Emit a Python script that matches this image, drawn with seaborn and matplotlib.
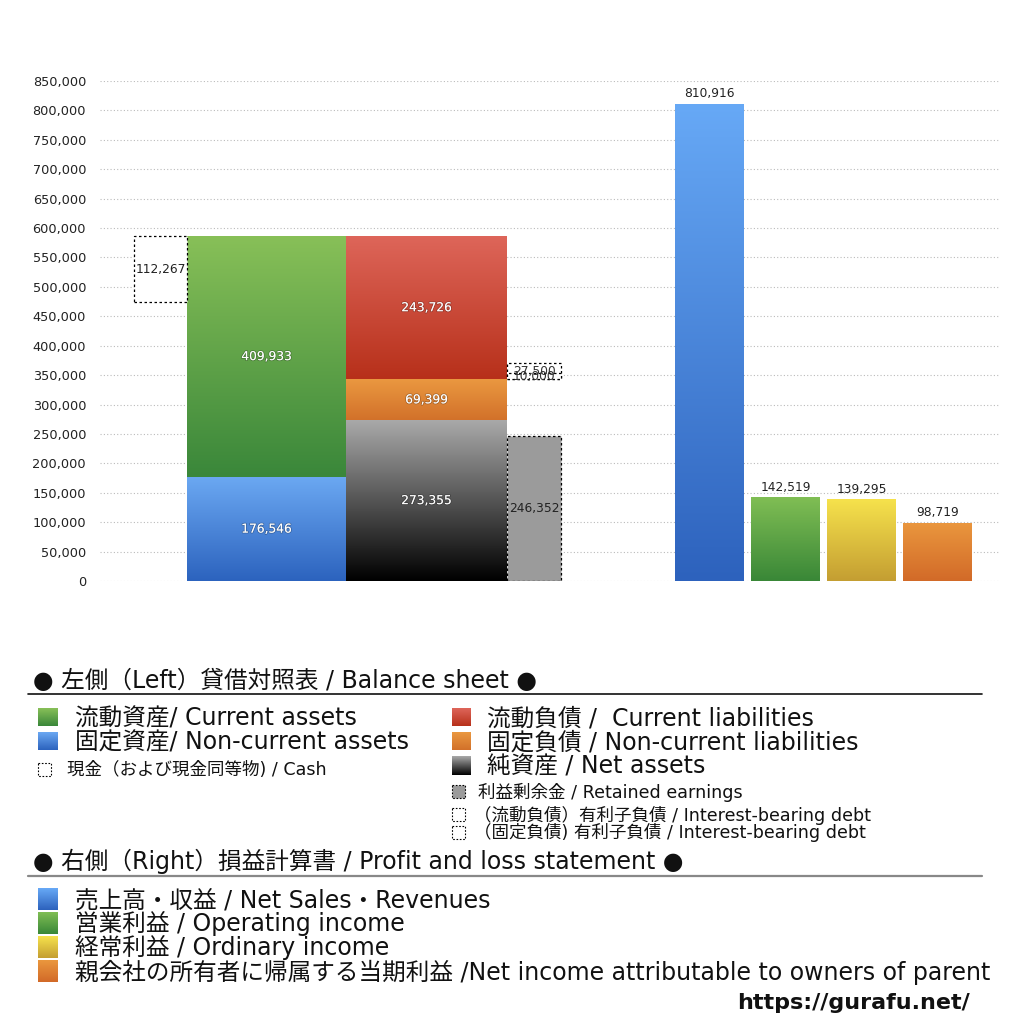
import numpy as np
import pandas as pd
import matplotlib
matplotlib.use("Agg")
import matplotlib.pyplot as plt
import matplotlib.patheffects as pe
from matplotlib.colors import LinearSegmentedColormap
from matplotlib.ticker import FuncFormatter
from matplotlib.patches import Rectangle
import seaborn as sns

# ---------------- data ----------------
assets_labels = ["固定資産", "流動資産"]              # bottom -> top
assets_values = [176546, 409933]
liab_labels = ["純資産", "固定負債", "流動負債"]        # bottom -> top
liab_values = [273355, 69399, 243726]
cash_value = 112267
retained_value = 246352
debt_labels = ["(固定負債) 有利子負債", "(流動負債) 有利子負債"]
debt_values = [10000, 27500]
pl_labels = ["売上高・収益", "営業利益", "経常利益", "親会社株主に帰属する当期利益"]
pl_values = [810916, 142519, 139295, 98719]
y_ticks = list(range(0, 850001, 50000))

# ---------------- style ----------------
sns.set_theme(style="white")
FONTS = ["DejaVu Sans", "Noto Sans CJK JP"]
plt.rcParams["font.family"] = FONTS

fig = plt.figure(figsize=(10.24, 10.24), dpi=100)
W = H = 1024.0
ax = fig.add_axes([100 / W, (H - 581) / H, 900 / W, 500 / H])

def grad(axis, patch, c_top, c_bot):
    x0, y0 = patch.get_x(), patch.get_y()
    w, h = patch.get_width(), patch.get_height()
    cmap = LinearSegmentedColormap.from_list("g", [c_bot, c_top])
    im = axis.imshow(np.linspace(0, 1, 256).reshape(-1, 1), extent=[x0, x0 + w, y0, y0 + h],
                     origin="lower", cmap=cmap, aspect="auto", interpolation="bilinear",
                     zorder=patch.get_zorder())
    im.set_clip_path(patch)
    patch.set_facecolor("none")

shadow = [pe.withStroke(linewidth=1.3, foreground=(0, 0, 0, 0.22))]
lab_kw = dict(ha="center", va="center", fontsize=8.8, family=FONTS)

# ---- left: balance sheet ----
A_X, A_W = 166.5, 159
L_X, L_W = 326.5, 161
asset_cols = [("#6BA8F2", "#2C63BE"), ("#88C058", "#3A873A")]
liab_cols = [("#A9A9A9", "#000000"), ("#EA9840", "#D2712A"), ("#DE665A", "#B7301A")]

a_bottoms = np.concatenate([[0], np.cumsum(assets_values)[:-1]])
bars = ax.bar([A_X] * len(assets_values), assets_values, bottom=a_bottoms, width=A_W,
              linewidth=0, zorder=3)
for p, (ct, cb), v in zip(bars.patches, asset_cols, assets_values):
    grad(ax, p, ct, cb)
    ax.text(A_X, p.get_y() + v / 2, f"{v:,}", color="white", path_effects=shadow, zorder=6, **lab_kw)

l_bottoms = np.concatenate([[0], np.cumsum(liab_values)[:-1]])
bars = ax.bar([L_X] * len(liab_values), liab_values, bottom=l_bottoms, width=L_W,
              linewidth=0, zorder=3)
for p, (ct, cb), v in zip(bars.patches, liab_cols, liab_values):
    grad(ax, p, ct, cb)
    ax.text(L_X, p.get_y() + v / 2, f"{v:,}", color="white", path_effects=shadow, zorder=6, **lab_kw)

total_assets = sum(assets_values)
# cash box (dashed, hangs from top of assets)
C_X, C_W = 60.5, 53
ax.bar([C_X], [cash_value], bottom=[total_assets - cash_value], width=C_W, facecolor="white",
       edgecolor="black", linestyle=(0, (2, 2)), linewidth=0.9, zorder=4)
ax.text(C_X, total_assets - cash_value / 2, f"{cash_value:,}", color="#222222", zorder=6, **lab_kw)

# retained earnings
R_X, R_W = 434, 54
ax.bar([R_X], [retained_value], width=R_W, facecolor="#9B9B9B", edgecolor="black",
       linestyle=(0, (2, 2)), linewidth=0.9, zorder=4)
ax.text(R_X, retained_value / 2, f"{retained_value:,}", color="#222222", zorder=6, **lab_kw)

# interest bearing debt boxes, starting at top of non-current liabilities
debt_base = liab_values[0] + liab_values[1]
for v in sorted(debt_values, reverse=True):
    ax.bar([R_X], [v], bottom=[debt_base], width=R_W, facecolor="white", edgecolor="black",
           linestyle=(0, (2, 2)), linewidth=0.9, zorder=4)
for v in debt_values:
    ax.text(R_X, debt_base + v / 2, f"{v:,}", color="#333333", zorder=6, **lab_kw)

# ---- right: P&L via seaborn ----
pl_pos = [609.5, 685.5, 761.5, 837.5]
pl_cols = [("#67A9F6", "#2D62BD"), ("#80BE54", "#398737"), ("#F6E24C", "#C49E32"), ("#EA973E", "#D26A28")]
df_pl = pd.DataFrame({"pos": pl_pos, "value": pl_values, "label": pl_labels})
n_before = len(ax.patches)
sns.barplot(data=df_pl, x="pos", y="value", native_scale=True, width=69 / 76, errorbar=None,
            color="#888888", linewidth=0, ax=ax, zorder=3)
for p, (ct, cb), v in zip(ax.patches[n_before:], pl_cols, pl_values):
    grad(ax, p, ct, cb)
    ax.text(p.get_x() + p.get_width() / 2, v + 6000, f"{v:,}", ha="center", va="bottom",
            fontsize=8.8, color="#222222", family=FONTS, zorder=6)

# ---- axes cosmetics ----
ax.set_xlim(0, 900)
ax.set_ylim(0, 850000)
ax.set_yticks(y_ticks)
ax.yaxis.set_major_formatter(FuncFormatter(lambda v, _: f"{int(v):,}"))
ax.set_xticks([])
ax.set_xlabel("")
ax.set_ylabel("")
ax.tick_params(axis="y", labelsize=9.3, labelcolor="#222222", length=0, pad=10)
ax.grid(axis="y", linestyle=(0, (1, 2)), color="#BBBBBB", linewidth=0.8, zorder=0)
ax.set_axisbelow(True)
for s in ax.spines.values():
    s.set_visible(False)
ax.set_facecolor("white")

# ---------------- legend overlay ----------------
ov = fig.add_axes([0, 0, 1, 1], zorder=10)
ov.set_xlim(0, W)
ov.set_ylim(H, 0)
ov.axis("off")
ov.patch.set_alpha(0)

def swatch(x, y, w, h, ct, cb):
    cmap = LinearSegmentedColormap.from_list("g", [cb, ct])
    ov.imshow(np.linspace(0, 1, 64).reshape(-1, 1), extent=[x, x + w, y + h, y], origin="lower",
              cmap=cmap, aspect="auto", interpolation="bilinear")

def dashed(x, y, w, h, fc="white"):
    ov.add_patch(Rectangle((x, y), w, h, facecolor=fc, edgecolor="black",
                           linestyle=(0, (1.5, 1.5)), linewidth=0.8))

BIG = 17
SMALL = 12.6
tkw = dict(va="center", ha="left", color="#111111", family=FONTS)

ov.text(33, 681, "● 左側（Left）貸借対照表 / Balance sheet ●", fontsize=BIG, **tkw)
ov.plot([28, 982], [694, 694], color="#111111", linewidth=1.2)

swatch(38, 708, 20, 18, *asset_cols[1])
ov.text(75, 718, "流動資産/ Current assets", fontsize=BIG, **tkw)
swatch(38, 732, 20, 18, *asset_cols[0])
ov.text(75, 742, "固定資産/ Non-current assets", fontsize=BIG, **tkw)
dashed(38, 763, 13, 13)
ov.text(67, 770, "現金（および現金同等物) / Cash", fontsize=SMALL, **tkw)

swatch(452, 708, 19, 18, *liab_cols[2])
ov.text(487, 718, "流動負債 /  Current liabilities", fontsize=BIG, **tkw)
swatch(452, 732, 19, 18, *liab_cols[1])
ov.text(487, 742, "固定負債 / Non-current liabilities", fontsize=BIG, **tkw)
swatch(452, 756, 19, 19, *liab_cols[0])
ov.text(487, 766, "純資産 / Net assets", fontsize=BIG, **tkw)
dashed(452, 785, 13, 13, fc="#9B9B9B")
ov.text(478, 792, "利益剰余金 / Retained earnings", fontsize=SMALL, **tkw)
dashed(452, 808, 13, 13)
ov.text(474, 815, "（流動負債）有利子負債 / Interest-bearing debt", fontsize=SMALL, **tkw)
dashed(452, 826, 13, 13)
ov.text(474, 832, "（固定負債) 有利子負債 / Interest-bearing debt", fontsize=SMALL, **tkw)

ov.text(33, 861, "● 右側（Right）損益計算書 / Profit and loss statement ●", fontsize=BIG, **tkw)
ov.plot([28, 982], [876, 876], color="#888888", linewidth=1.6)

pl_legend = ["売上高・収益 / Net Sales・Revenues", "営業利益 / Operating income",
             "経常利益 / Ordinary income",
             "親会社の所有者に帰属する当期利益 /Net income attributable to owners of parent"]
for i, (txt, (ct, cb)) in enumerate(zip(pl_legend, pl_cols)):
    yc = 899 + 24 * i
    swatch(38, yc - 11, 20, 22, ct, cb)
    ov.text(75, yc + 1, txt, fontsize=BIG, **tkw)

ov.text(970, 1003, "https://gurafu.net/", fontsize=16, fontweight="bold", ha="right", va="center",
        color="#111111", family=FONTS)

fig.savefig("out.png", dpi=100, facecolor="white")
